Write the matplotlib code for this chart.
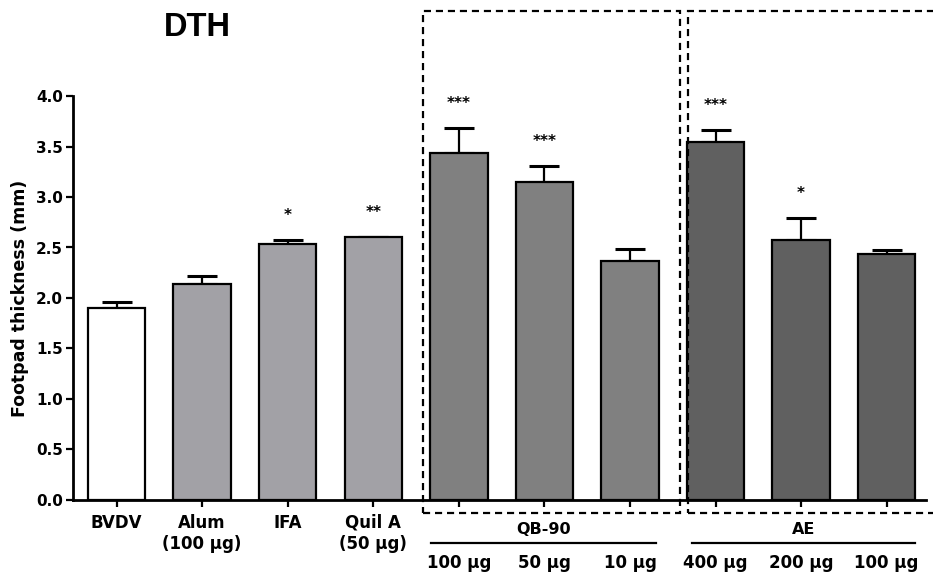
import matplotlib.pyplot as plt
from matplotlib.patches import Rectangle
import matplotlib.transforms as mtransforms

plt.rcParams['font.family'] = ['DejaVu Sans']
plt.rcParams['font.weight'] = 'bold'
plt.rcParams['axes.labelweight'] = 'bold'

groups = ["BVDV", "Alum\n(100 μg)", "IFA", "Quil A\n(50 μg)",
          "", "", "", "", "", ""]
doses = ["", "", "", "", "100 μg", "50 μg", "10 μg", "400 μg", "200 μg", "100 μg"]
means = [1.90, 2.14, 2.53, 2.60, 3.44, 3.15, 2.37, 3.54, 2.57, 2.44]
sems = [0.06, 0.08, 0.04, 0.0, 0.24, 0.16, 0.12, 0.12, 0.22, 0.035]
stars = ["", "", "*", "**", "***", "***", "", "***", "*", ""]
colors = ["white", "#a2a1a6", "#a2a1a6", "#a2a1a6",
          "#808080", "#808080", "#808080", "#606060", "#606060", "#606060"]

fig = plt.figure(figsize=(9.33, 5.76), dpi=100)
ax = fig.add_axes([0.0782, 0.132, 0.9143, 0.7013])

x = list(range(len(means)))
ax.bar(x, means, width=0.67, color=colors, edgecolor="black", linewidth=1.6, zorder=3)
ax.errorbar(x, means, yerr=[[0] * len(sems), sems], fmt="none", ecolor="black",
            elinewidth=1.6, capsize=10.5, capthick=2.2, zorder=2)

# significance marks above the error bars
for xi, m, s, st in zip(x, means, sems, stars):
    if st:
        ax.text(xi, m + s + 0.2, st, ha="center", va="baseline", fontsize=11)

ax.set_xlim(-0.51, 9.46)
ax.set_ylim(0, 4.0)
ax.set_yticks([0, 0.5, 1.0, 1.5, 2.0, 2.5, 3.0, 3.5, 4.0])
ax.set_yticklabels(["0.0", "0.5", "1.0", "1.5", "2.0", "2.5", "3.0", "3.5", "4.0"], fontsize=11)
ax.set_xticks(x)
ax.set_xticklabels(groups, fontsize=12, linespacing=1.2)
ax.tick_params(axis="both", direction="out", length=5, width=1.6)
ax.tick_params(axis="x", pad=5)
ax.tick_params(axis="y", pad=2)
ax.set_ylabel("Footpad thickness (mm)", fontsize=12.5, labelpad=5)
for side in ["top", "right"]:
    ax.spines[side].set_visible(False)
for side in ["left", "bottom"]:
    ax.spines[side].set_linewidth(2)

# dose labels and group underlines below the axis
trans = mtransforms.blended_transform_factory(ax.transData, ax.transAxes)
for xi, d in zip(x, doses):
    if d:
        ax.text(xi, -0.155, d, ha="center", va="center", fontsize=12, transform=trans)
for lo, hi, name in [(3.68, 6.3, "QB-90"), (6.72, 9.33, "AE")]:
    ax.plot([lo, hi], [-0.106, -0.106], color="black", lw=1.6, transform=trans, clip_on=False)
    ax.text((lo + hi) / 2, -0.074, name, ha="center", va="center", fontsize=11.5, transform=trans)

# dashed frames around the QB-90 and AE groups
for x0, x1 in [(3.58, 6.58), (6.68, 9.7)]:
    ax.add_patch(Rectangle((x0, -0.13), x1 - x0, 4.97, fill=False, edgecolor="black",
                           linestyle=(0, (3.2, 2.2)), linewidth=1.6, clip_on=False, zorder=4))

fig.text(0.212, 0.953, "DTH", ha="center", va="center", fontsize=23.5,
         family=["Liberation Sans", "DejaVu Sans"])

fig.savefig("out.png", dpi=100)
